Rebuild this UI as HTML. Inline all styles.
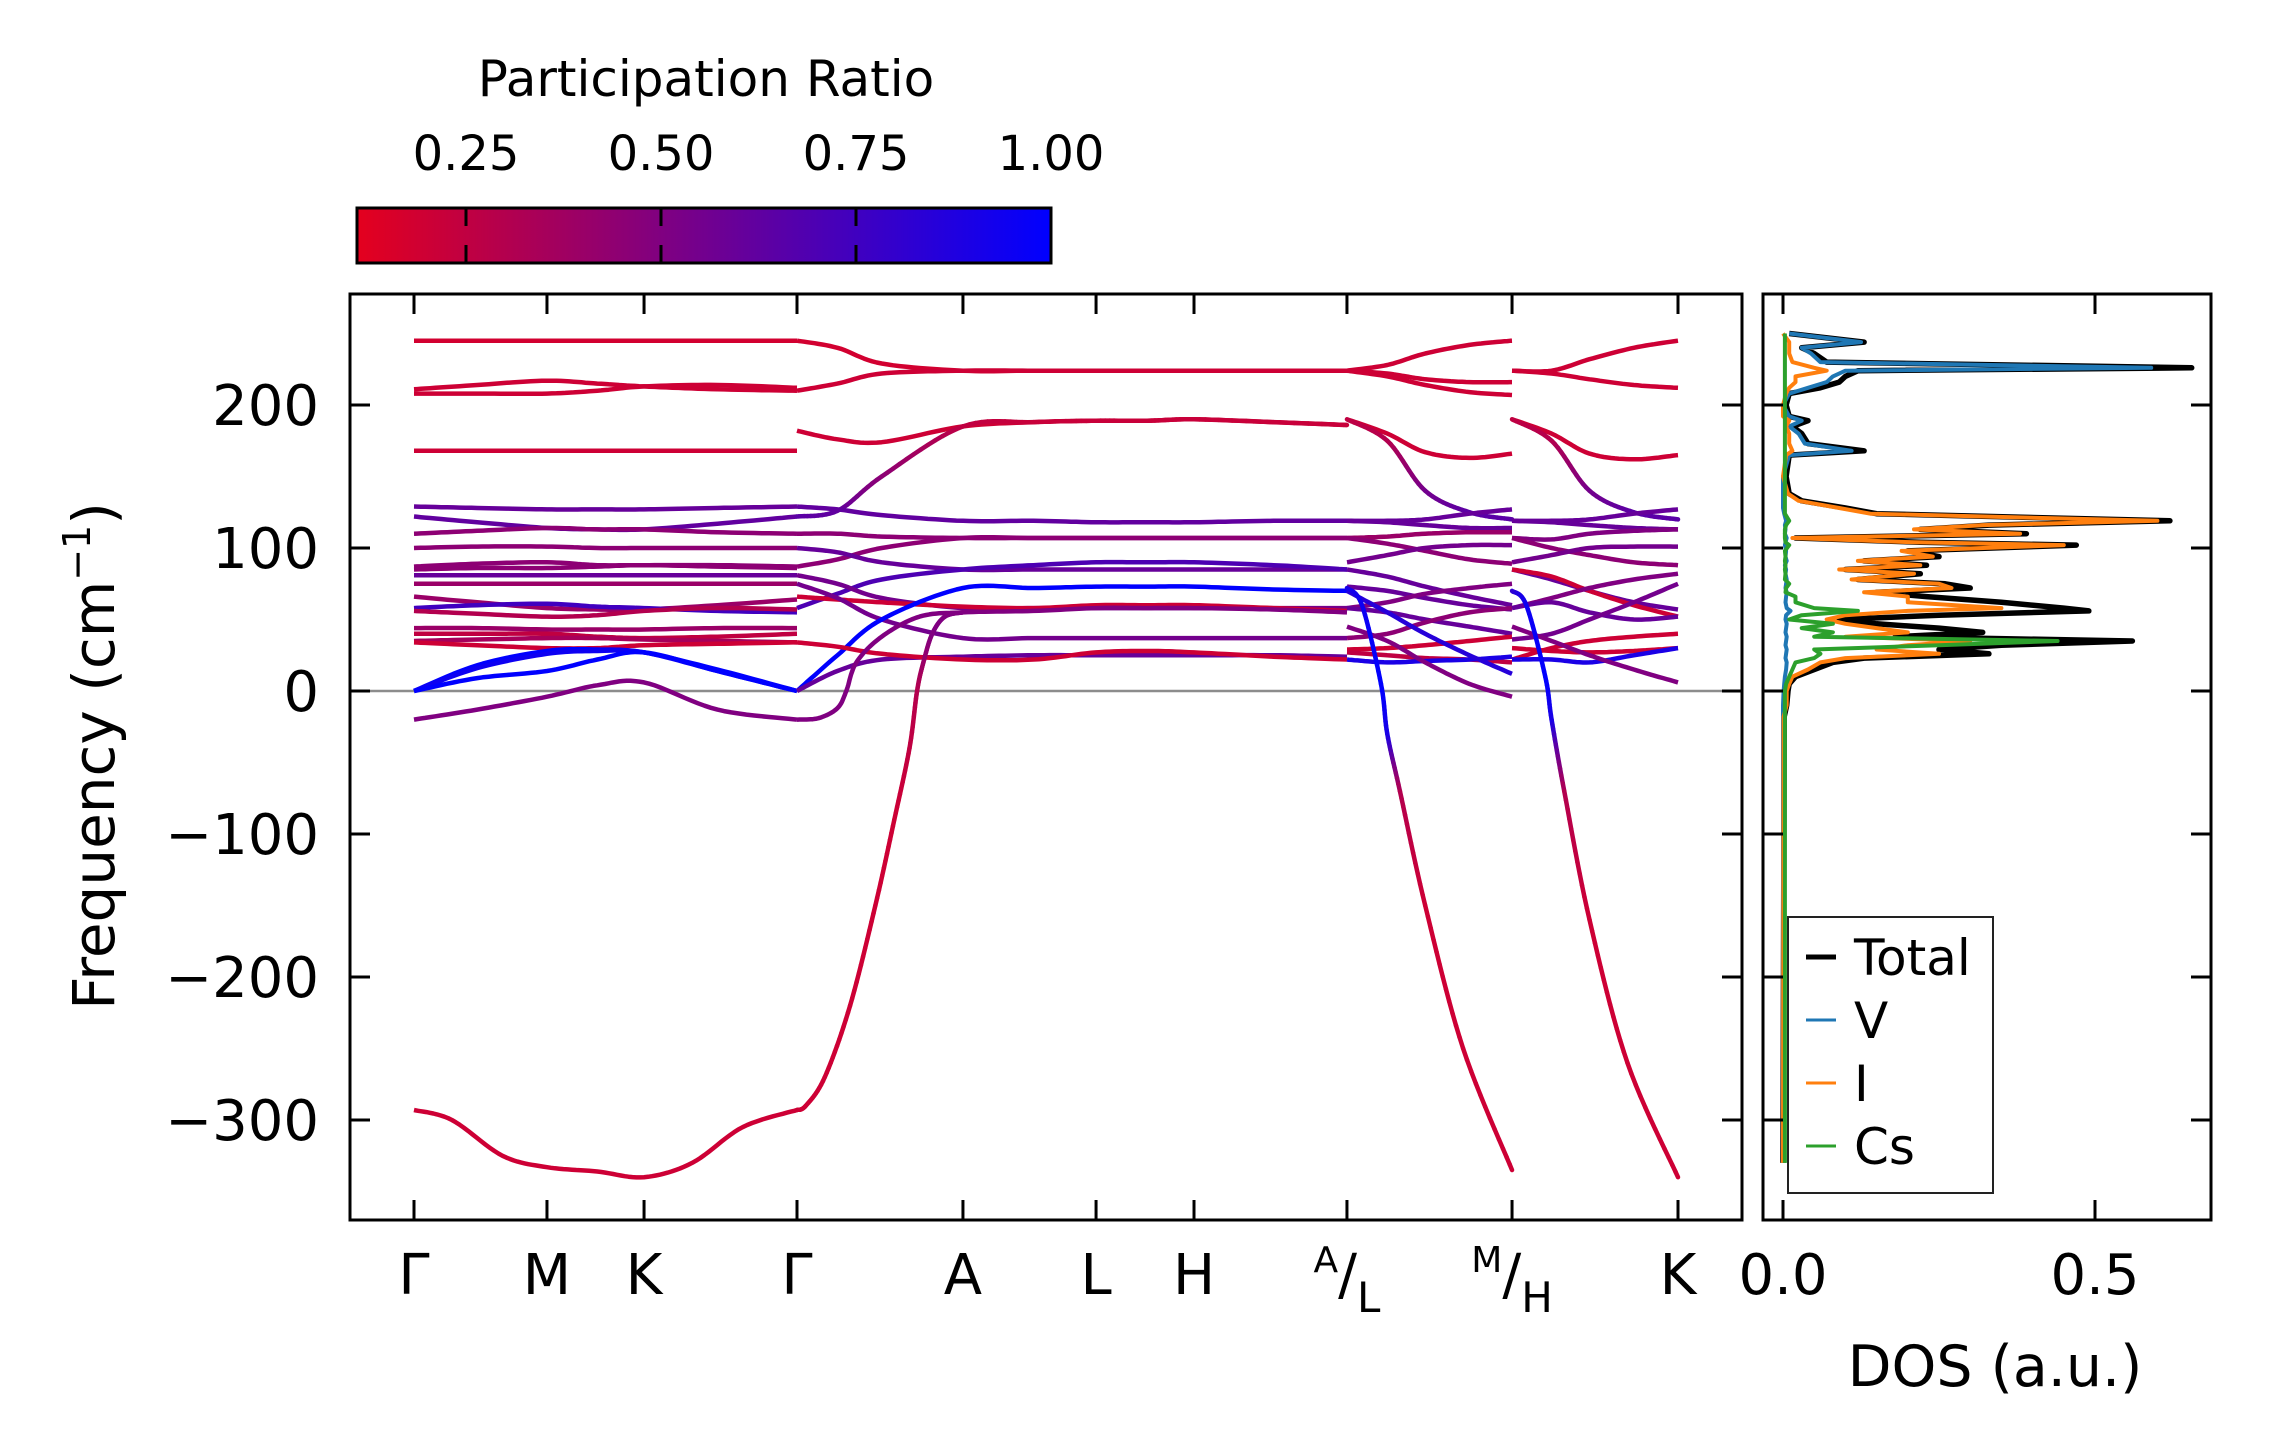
<!DOCTYPE html>
<html><head><meta charset="utf-8"><style>
html,body{margin:0;padding:0;background:#fff;}
svg{display:block;font-family:"DejaVu Sans","Liberation Sans",sans-serif;}
</style></head><body>
<svg id="fig" xmlns="http://www.w3.org/2000/svg" width="2271" height="1455" viewBox="0 0 2271 1455">
<defs>
<linearGradient id="cmap" x1="0" x2="1" y1="0" y2="0">
<stop offset="0" stop-color="rgb(228,0,30)"/><stop offset="1" stop-color="rgb(0,0,255)"/>
</linearGradient>
<clipPath id="mainclip"><rect x="350" y="294" width="1392" height="926"/></clipPath>
<clipPath id="dosclip"><rect x="1763" y="294" width="448" height="926"/></clipPath>
</defs>
<g id="colorbar">
<text x="706" y="96" font-size="50" text-anchor="middle">Participation Ratio</text>
<rect x="357" y="208" width="694" height="55" fill="url(#cmap)" stroke="#000" stroke-width="3"/>
</g>
<g id="main"></g>
<g id="dos"></g>
</svg>
<script>
// ---------- data ----------
const kLabels = ["Γ","M","K","Γ","A","L","H","A/L","M/H","K"];
const kTicks = [0, 0.1052, 0.182, 0.303, 0.4343, 0.5396, 0.6171, 0.7381, 0.8687, 1.0];
const yTicks = [-300,-200,-100,0,100,200];
const cbTicks = [0.25,0.5,0.75,1.0];
const cbLabels = ["0.25","0.50","0.75","1.00"];
const dosTicks = [0.0,0.5];
const dosTickLabels = ["0.0","0.5"];

const KS1 = [0,0.05,0.1052,0.145,0.182,0.24,0.303];
const KS2 = [0.303,0.335,0.37,0.4343,0.49,0.5396,0.58,0.6171,0.68,0.7381];
const KS3 = [0.7381,0.77,0.80,0.835,0.8687];
const KS4 = [0.8687,0.90,0.93,0.965,1.0];

const bands1 = [
 {pr:.18,f:[245,245,245,245,245,245,245]},
 {pr:.2,f:[211,214,217,215,213,211,210]},
 {pr:.2,f:[208,208,208,210,213,214,212]},
 {pr:.2,f:[168,168,168,168,168,168,168]},
 {pr:.6,f:[129,128,127,127,127,128,129]},
 {pr:.62,f:[122,118,114,113,113,117,122]},
 {pr:.45,f:[110,112,114,113,113,111,110]},
 {pr:.45,f:[100,101,101,100,100,100,100]},
 {pr:.45,f:[87,89,90,88,88,88,87]},
 {pr:.45,f:[85,86,86,87,88,87,86]},
 {pr:.6,f:[81,81,81,81,81,81,81]},
 {pr:.4,f:[75,75,75,75,75,75,75]},
 {pr:.4,f:[66,62,58,57,57,60,64]},
 {pr:.75,f:[58,60,61,59,58,56,55]},
 {pr:.3,f:[56,54,52,53,56,58,57]},
 {pr:.4,f:[44,44,43,43,43,44,44]},
 {pr:.25,f:[40,40,40,38,37,38,40]},
 {pr:.35,f:[35,36,37,37,36,35,34]},
 {pr:.2,f:[34,32,30,30,32,33,34]},
 {pr:1.0,f:[0,18,28,29,27,15,0]},
 {pr:.95,f:[0,16,26,28,27,14,0]},
 {pr:1.0,f:[0,9,14,22,27,14,0]},
 {pr:.5,f:[-20,-13,-4,4,6,-13,-20]}
];
const lowK1 = [0,0.03,0.07,0.1052,0.145,0.182,0.22,0.26,0.303];
const lowF1 = [-293,-300,-325,-333,-336,-340,-330,-305,-293];
const bands2 = [
 {pr:.18,f:[245,240,229,224,224,224,224,224,224,224]},
 {pr:.2,f:[210,215,222,224,224,224,224,224,224,224]},
 {pr:.2,f:[182,176,174,185,188,189,189,190,188,186]},
 {pr:[.65,.62,.45,.25,.22,.22,.22,.22,.22,.22],f:[122,126,150,185,188,189,189,190,188,186]},
 {pr:.62,f:[129,127,123,119,119,118,118,118,119,119]},
 {pr:.45,f:[110,110,108,107,107,107,107,107,107,107]},
 {pr:.45,f:[87,92,100,107,107,107,107,107,107,107]},
 {pr:.6,f:[100,97,90,85,85,85,85,85,85,85]},
 {pr:.7,f:[58,68,78,85,88,90,90,90,88,85]},
 {pr:.55,f:[81,75,65,58,58,58,58,58,58,58]},
 {pr:.2,f:[66,64,62,59,58,60,60,60,58,56]},
 {pr:.55,f:[75,65,50,37,37,37,37,37,37,37]},
 {pr:1.0,f:[0,25,50,72,72,73,73,73,71,70]},
 {pr:.6,f:[0,14,22,24,25,25,25,25,25,24]},
 {pr:.2,f:[34,31,26,22,22,27,28,27,24,22]}
];
const bands3 = [
 {pr:.2,f:[224,228,236,242,245]},
 {pr:.2,f:[224,222,218,216,216]},
 {pr:.2,f:[224,220,214,209,207]},
 {pr:.2,f:[190,180,167,163,166]},
 {pr:[.25,.3,.55,.65,.65],f:[190,175,140,125,120]},
 {pr:.6,f:[119,119,120,124,127]},
 {pr:.6,f:[119,118,116,114,114]},
 {pr:.4,f:[107,108,110,111,111]},
 {pr:.45,f:[107,103,98,92,89]},
 {pr:.55,f:[90,95,100,102,102]},
 {pr:.6,f:[85,80,73,66,60]},
 {pr:.6,f:[73,70,65,60,57]},
 {pr:.5,f:[58,62,68,72,75]},
 {pr:.6,f:[58,55,50,45,40]},
 {pr:.45,f:[37,40,48,55,58]},
 {pr:.2,f:[29,30,32,35,38]},
 {pr:.25,f:[27,25,23,22,20]},
 {pr:.9,f:[22,20,21,22,24]},
 {pr:.85,f:[70,55,40,25,12]},
 {pr:.5,f:[45,35,20,5,-4]}
];
const bands4 = [
 {pr:.2,f:[224,224,232,240,245]},
 {pr:.2,f:[224,222,218,214,212]},
 {pr:.2,f:[190,180,166,162,165]},
 {pr:[.25,.3,.55,.65,.65],f:[190,175,140,125,120]},
 {pr:.6,f:[119,119,120,124,127]},
 {pr:.6,f:[119,118,116,114,113]},
 {pr:.5,f:[107,106,110,112,113]},
 {pr:.45,f:[107,100,95,90,88]},
 {pr:.55,f:[90,95,100,101,101]},
 {pr:.6,f:[85,78,70,62,57]},
 {pr:.2,f:[85,80,70,60,52]},
 {pr:.5,f:[58,65,72,78,82]},
 {pr:.6,f:[58,62,55,50,52]},
 {pr:.55,f:[36,40,50,62,75]},
 {pr:.2,f:[22,30,35,38,40]},
 {pr:.2,f:[30,28,27,28,30]},
 {pr:.9,f:[22,22,20,25,30]},
 {pr:.5,f:[45,35,25,15,6]}
];
const steepK1 = [0.303,0.32,0.335,0.342,0.35,0.37,0.40,0.4343,0.49,0.5396,0.58,0.6171,0.68,0.7381];
const steepF1 = [-20,-19,-12,0,20,38,52,55,56,58,58,58,57,55];
const steepK2 = [0.303,0.31,0.325,0.345,0.365,0.38,0.392,0.398,0.403,0.41,0.42,0.4343];
const steepF2 = [-293,-290,-270,-220,-150,-90,-40,0,20,40,52,55];
const steepK3 = [0.7381,0.75,0.765,0.77,0.78,0.80,0.83,0.8687];
const steepF3 = [72,60,5,-30,-70,-150,-250,-335];
const steepPR3 = [.9,.95,1,.9,.3,.2,.2,.2];
const steepK4 = [0.8687,0.88,0.895,0.90,0.91,0.93,0.96,1.0];
const steepF4 = [70,60,10,-20,-70,-160,-260,-340];
const steepPR4 = [.8,.95,1,.9,.3,.2,.2,.2];

const dosFreq = [250,244,240,236,230,226,224,220,216,212,208,200,192,189,185,180,173,168,165,150,138,133,128,124,119,116,113,110,107,104,102,98,94,91,88,85,82,78,75,72,69,66,62,58,56,53,50,47,44,41,38,35,32,29,26,23,20,15,10,5,0,-10,-18,-330];
const dosTotal = [.01,.13,.03,.05,.07,.655,.12,.1,.09,.06,.01,.005,.01,.04,.015,.03,.04,.13,.01,.005,.01,.03,.1,.15,.62,.33,.22,.39,.02,.22,.47,.2,.25,.13,.23,.1,.22,.12,.26,.3,.15,.23,.35,.45,.49,.25,.09,.15,.25,.32,.18,.56,.35,.25,.33,.13,.08,.05,.02,.01,.008,.006,.002,0];
const dosV =     [.01,.125,.03,.045,.06,.59,.1,.08,.07,.04,.01,0,.01,.03,.01,.025,.035,.11,.01,0,0,0,0,.002,.005,.003,.004,.003,.006,.004,.003,.005,.004,.006,.003,.005,.004,.006,.005,.004,.006,.005,.004,.006,.012,.005,.004,.006,.005,.004,.006,.005,.004,.006,.005,.004,.006,.005,.003,.002,.001,0,0,0];
const dosI =     [0,.01,.01,.01,.015,.05,.07,.02,.02,.01,.005,0,0,.01,.005,.01,.01,.015,.005,0,.008,.025,.09,.14,.6,.32,.21,.38,.015,.21,.45,.19,.24,.12,.22,.09,.21,.11,.25,.27,.13,.2,.2,.35,.2,.1,.07,.1,.15,.2,.1,.3,.2,.15,.25,.1,.06,.04,.015,.01,.006,.006,.001,0];
const dosCs =    [.003,.003,.003,.003,.003,.003,.003,.003,.003,.003,.003,.003,.003,.003,.003,.003,.003,.003,.003,.003,.003,.003,.003,.003,.01,.005,.003,.003,.003,.004,.01,.003,.004,.003,.004,.003,.004,.003,.01,.005,.004,.02,.02,.05,.12,.03,.01,.08,.03,.08,.05,.44,.25,.05,.06,.05,.02,.015,.01,.005,.003,.003,.003,.003];

// ---------- scales ----------
const X0 = 414, XW = 1264;
const xk = k => X0 + k*XW;
const yf = f => 691 - 1.43*f;
const xd = d => 1783 + d*624;
const cbx = v => 1051 - (1.0 - v)*780;
function prColor(p){ let t=(p-0.11)/0.89; t=Math.max(0,Math.min(1,t));
  return `rgb(${Math.round(228*(1-t))},0,${Math.round(30+225*t)})`; }

const NS = "http://www.w3.org/2000/svg";
function mk(tag, attrs, parent){ const e=document.createElementNS(NS,tag); for(const a in attrs) e.setAttribute(a,attrs[a]); parent.appendChild(e); return e; }

// ---------- colorbar ticks/labels ----------
const cb = document.getElementById('colorbar');
cbTicks.forEach((v,i)=>{
  const x=cbx(v);
  if(v<1){
    const t1=mk('line',{x1:x,x2:x,y1:208,y2:226,stroke:'#000','stroke-width':3},cb);
    
    
    const t2=mk('line',{x1:x,x2:x,y1:245,y2:263,stroke:'#000','stroke-width':3},cb);
    
    
  }
  const tx=mk('text',{x:x,y:170,'font-size':48,'text-anchor':'middle'},cb);
  tx.textContent=cbLabels[i];
  
  
});

// ---------- main plot ----------
const main = document.getElementById('main');
const zl = mk('line',{x1:350,x2:1742,y1:yf(0),y2:yf(0),stroke:'#8c8c8c','stroke-width':2.5},main);


const bg = mk('g',{'clip-path':'url(#mainclip)'},main);



function smooth(pts){
  const out=[];
  for(let i=0;i<pts.length-1;i++){
    const p0=pts[Math.max(0,i-1)],p1=pts[i],p2=pts[i+1],p3=pts[Math.min(pts.length-1,i+2)];
    for(let s=0;s<12;s++){ const t=s/12,t2=t*t,t3=t2*t;
      const x=0.5*((2*p1[0])+(-p0[0]+p2[0])*t+(2*p0[0]-5*p1[0]+4*p2[0]-p3[0])*t2+(-p0[0]+3*p1[0]-3*p2[0]+p3[0])*t3);
      const y=0.5*((2*p1[1])+(-p0[1]+p2[1])*t+(2*p0[1]-5*p1[1]+4*p2[1]-p3[1])*t2+(-p0[1]+3*p1[1]-3*p2[1]+p3[1])*t3);
      out.push([x,y,i+t]); }
  }
  const l=pts[pts.length-1]; out.push([l[0],l[1],pts.length-1]); return out;
}
function drawBand(ks, fs, pr){
  const pts = ks.map((k,i)=>[xk(k), yf(fs[i])]);
  const d = smooth(pts);
  if(typeof pr === 'number'){
    const p = mk('path',{d:'M'+d.map(q=>q[0].toFixed(1)+','+q[1].toFixed(1)).join('L'),fill:'none',stroke:prColor(pr),'stroke-width':4.5,'stroke-linejoin':'round'},bg);
    
    
  } else {
    for(let j=0;j<d.length-1;j++){
      const u=d[j][2], i=Math.floor(u), t=u-i;
      const pv = pr[i] + (pr[Math.min(i+1,pr.length-1)]-pr[i])*t;
      const s = mk('line',{x1:d[j][0],y1:d[j][1],x2:d[j+1][0],y2:d[j+1][1],stroke:prColor(pv),'stroke-width':4.5,'stroke-linecap':'round'},bg);
      
      
    }
  }
}
bands1.forEach(b=>drawBand(KS1,b.f,b.pr));
drawBand(lowK1,lowF1,.2);
bands2.forEach(b=>drawBand(KS2,b.f,b.pr));
bands3.forEach(b=>drawBand(KS3,b.f,b.pr));
bands4.forEach(b=>drawBand(KS4,b.f,b.pr));
drawBand(steepK1,steepF1,.5);
drawBand(steepK2,steepF2,[.2,.2,.2,.2,.2,.2,.25,.3,.4,.5,.5,.5]);
drawBand(steepK3,steepF3,steepPR3);
drawBand(steepK4,steepF4,steepPR4);

const frame = mk('rect',{x:350,y:294,width:1392,height:926,fill:'none',stroke:'#000','stroke-width':3},main);


kTicks.forEach((k,i)=>{
  const x=xk(k);
  const a=mk('line',{x1:x,x2:x,y1:1220,y2:1200,stroke:'#000','stroke-width':3},main);
  
  
  const b=mk('line',{x1:x,x2:x,y1:294,y2:314,stroke:'#000','stroke-width':3},main);
  
  
  const lab=kLabels[i];
  const t=mk('text',{x:x,y:1294,'font-size':56,'text-anchor':'middle'},main);
  
  
  if(lab.includes('/')){
    const [sup,sub]=lab.split('/');
    t.innerHTML=`<tspan font-size="36" dy="-22">${sup}</tspan><tspan dy="22">/</tspan><tspan font-size="42" dy="18">${sub}</tspan>`;
  } else t.textContent=lab;
});
yTicks.forEach(v=>{
  const y=yf(v);
  const a=mk('line',{x1:350,x2:370,y1:y,y2:y,stroke:'#000','stroke-width':3},main);
  
  
  const b=mk('line',{x1:1742,x2:1722,y1:y,y2:y,stroke:'#000','stroke-width':3},main);
  
  
  const t=mk('text',{x:319,y:y+20,'font-size':56,'text-anchor':'end'},main);
  t.textContent = v<0 ? '\u2212'+Math.abs(v) : String(v);
  
  
});
const yl=mk('text',{x:0,y:0,'font-size':58,'text-anchor':'middle',transform:'translate(114,756) rotate(-90)'},main);
yl.innerHTML='Frequency (cm<tspan font-size="38" dy="-24">\u22121</tspan><tspan dy="24">)</tspan>';



// ---------- DOS ----------
const dos=document.getElementById('dos');
const dg=mk('g',{'clip-path':'url(#dosclip)'},dos);


const series=[['dos-total',dosTotal,'#000',5.5],['dos-v',dosV,'#1f77b4',4],['dos-i',dosI,'#ff7f0e',4],['dos-cs',dosCs,'#2ca02c',4]];
series.forEach(s=>{
  const p=mk('polyline',{points:dosFreq.map((f,i)=>xd(s[1][i]).toFixed(1)+','+yf(f).toFixed(1)).join(' '),fill:'none',stroke:s[2],'stroke-width':s[3],'stroke-linejoin':'round'},dg);
  
  
});
const df=mk('rect',{x:1763,y:294,width:448,height:926,fill:'none',stroke:'#000','stroke-width':3},dos);


dosTicks.forEach((v,i)=>{
  const x=xd(v);
  const a=mk('line',{x1:x,x2:x,y1:1220,y2:1200,stroke:'#000','stroke-width':3},dos);
  
  
  const b=mk('line',{x1:x,x2:x,y1:294,y2:314,stroke:'#000','stroke-width':3},dos);
  
  
  const t=mk('text',{x:x,y:1294,'font-size':56,'text-anchor':'middle'},dos);
  t.textContent=dosTickLabels[i];
  
  
});
yTicks.forEach(v=>{
  const y=yf(v);
  const a=mk('line',{x1:1763,x2:1783,y1:y,y2:y,stroke:'#000','stroke-width':3},dos);
  
  
  const b=mk('line',{x1:2211,x2:2191,y1:y,y2:y,stroke:'#000','stroke-width':3},dos);
  
  
});
const dl=mk('text',{x:1995,y:1386,'font-size':57,'text-anchor':'middle'},dos);
dl.textContent='DOS (a.u.)';


// legend
const lg=mk('g',{},dos);


const lb=mk('rect',{x:1788,y:917,width:205,height:276,fill:'#fff',stroke:'#222','stroke-width':2},lg);


const legNames=['Total','V','I','Cs'];
legNames.forEach((n,i)=>{
  const y=957+63*i;
  const l=mk('line',{x1:1806,x2:1836,y1:y,y2:y,stroke:series[i][2],'stroke-width':i==0?5:3},lg);
  
  
  const t=mk('text',{x:1854,y:y+18,'font-size':50},lg);
  t.textContent=n;
  
  
});
</script>
</body></html>
